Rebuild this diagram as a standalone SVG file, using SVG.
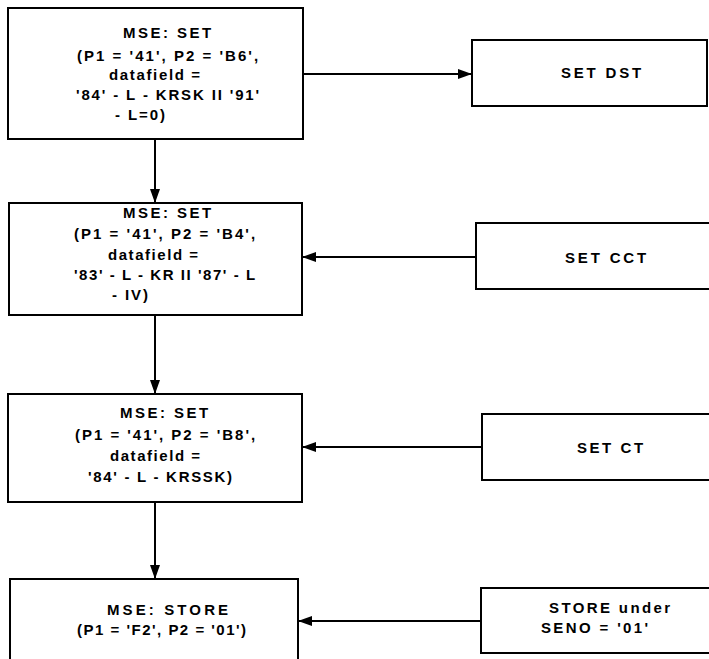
<svg xmlns="http://www.w3.org/2000/svg" width="709" height="659" viewBox="0 0 709 659">
<defs>
<marker id="arr" markerUnits="userSpaceOnUse" markerWidth="16" markerHeight="12" refX="14" refY="5" orient="auto">
<path d="M0,0 L14,5 L0,10 Z" fill="#000"/>
</marker>
<style>
.box{fill:#fff;stroke:#000;stroke-width:2}
.t{font-family:"Liberation Sans",Arial,sans-serif;font-size:15px;font-weight:bold;fill:#000;letter-spacing:1.9px}
.c{fill:none;stroke:#000;stroke-width:2}
</style>
</defs>
<rect width="709" height="659" fill="#fff"/>
<g id="n1">
<rect class="box" x="8" y="8" width="295" height="131"/>
<text class="t" x="123" y="38" textLength="90" lengthAdjust="spacing">MSE: SET</text>
<text class="t" x="77" y="61" textLength="183" lengthAdjust="spacing">(P1 = '41', P2 = 'B6',</text>
<text class="t" x="109" y="80" textLength="93" lengthAdjust="spacing">datafield =</text>
<text class="t" x="76" y="100" textLength="185" lengthAdjust="spacing">'84' - L - KRSK II '91'</text>
<text class="t" x="115" y="120">- L=0)</text>
</g>
<g id="n2">
<rect class="box" x="9" y="203" width="293" height="112"/>
<text class="t" x="123" y="218" textLength="90" lengthAdjust="spacing">MSE: SET</text>
<text class="t" x="74" y="239" textLength="183" lengthAdjust="spacing">(P1 = '41', P2 = 'B4',</text>
<text class="t" x="108" y="260" textLength="92" lengthAdjust="spacing">datafield =</text>
<text class="t" x="74" y="280" textLength="183" lengthAdjust="spacing">'83' - L - KR II '87' - L</text>
<text class="t" x="112" y="300">- IV)</text>
</g>
<g id="n3">
<rect class="box" x="8" y="394" width="294" height="108"/>
<text class="t" x="120" y="418" textLength="90" lengthAdjust="spacing">MSE: SET</text>
<text class="t" x="75" y="440" textLength="182" lengthAdjust="spacing">(P1 = '41', P2 = 'B8',</text>
<text class="t" x="110" y="461" textLength="92" lengthAdjust="spacing">datafield =</text>
<text class="t" x="88" y="482" textLength="146" lengthAdjust="spacing">'84' - L - KRSSK)</text>
</g>
<g id="n4">
<path class="box" d="M10,662 V579 H298 V662"/>
<text class="t" x="107" y="615" textLength="123" lengthAdjust="spacing">MSE: STORE</text>
<text class="t" x="77" y="635" textLength="171" lengthAdjust="spacing">(P1 = 'F2', P2 = '01')</text>
</g>
<g id="r1">
<rect class="box" x="472" y="40" width="235" height="66"/>
<text class="t" x="561" y="78" textLength="82" lengthAdjust="spacing">SET DST</text>
</g>
<g id="r2">
<rect class="box" x="476" y="223" width="240" height="66"/>
<text class="t" x="565" y="263" textLength="83" lengthAdjust="spacing">SET CCT</text>
</g>
<g id="r3">
<rect class="box" x="482" y="414" width="240" height="66"/>
<text class="t" x="577" y="453" textLength="68" lengthAdjust="spacing">SET CT</text>
</g>
<g id="r4">
<rect class="box" x="481" y="588" width="240" height="65"/>
<text class="t" x="549" y="613" textLength="123" lengthAdjust="spacing">STORE under</text>
<text class="t" x="541" y="633" textLength="109" lengthAdjust="spacing">SENO = '01'</text>
</g>
<g id="connectors">
<line class="c" x1="155" y1="139" x2="155" y2="203" marker-end="url(#arr)"/>
<line class="c" x1="155" y1="315" x2="155" y2="394" marker-end="url(#arr)"/>
<line class="c" x1="155" y1="502" x2="155" y2="579" marker-end="url(#arr)"/>
<line class="c" x1="303" y1="74" x2="472" y2="74" marker-end="url(#arr)"/>
<line class="c" x1="476" y1="257" x2="302" y2="257" marker-end="url(#arr)"/>
<line class="c" x1="482" y1="447" x2="302" y2="447" marker-end="url(#arr)"/>
<line class="c" x1="481" y1="621" x2="298" y2="621" marker-end="url(#arr)"/>
</g>
</svg>
